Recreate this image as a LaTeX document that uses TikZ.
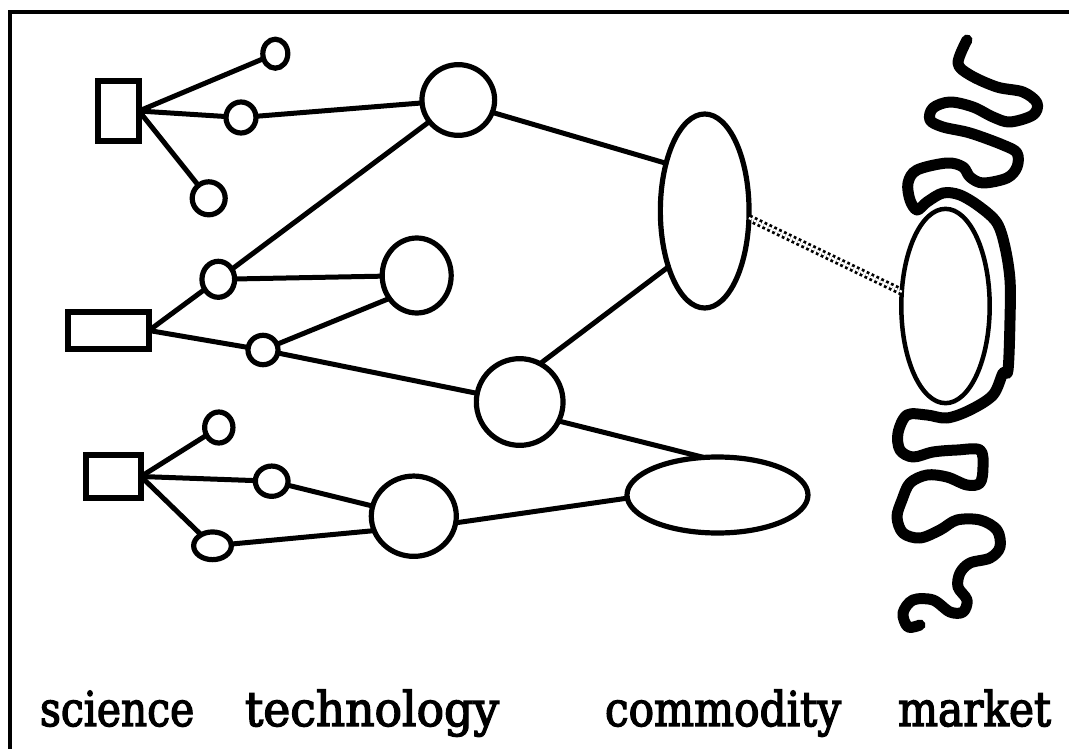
\documentclass[tikz,border=0pt]{standalone}
\usepackage{fontspec}
\setmainfont{DejaVu Serif}
\newfontfamily\lblfont{DejaVu Serif}[FakeBold=3]
\usetikzlibrary{shapes.geometric}
\begin{document}
\begin{tikzpicture}[x=1pt,y=-1pt,
  every node/.style={inner sep=0pt, outer sep=0pt},
  sbox/.style={draw, line width=5.2pt, shape=rectangle},
  blob/.style={draw, line width=5.2pt, shape=ellipse},
  link/.style={line width=5pt, line cap=round},
  dots/.style={line width=2.8pt, double=white, double distance=2.2pt, dash pattern=on 2.8pt off 2.6pt},
  worm/.style={line width=11pt, line cap=round, line join=round},
  frame/.style={line width=4pt},
  lbl/.style={font=\lblfont\fontsize{48}{52}\selectfont, anchor=base west}
]
\useasboundingbox (0,0) rectangle (1069,749);
\draw[frame] (9.5,749) -- (9.5,12) -- (1069,12);

% science boxes
\node[sbox, minimum width=41pt, minimum height=60pt] (S1) at (118.5,111) {};
\node[sbox, minimum width=81pt, minimum height=37pt] (S2) at (108.5,330.5) {};
\node[sbox, minimum width=55pt, minimum height=43pt] (S3) at (113.5,476.5) {};

% small technology circles
\node[blob, minimum width=25pt, minimum height=29pt] (a1) at (275.3,53.7) {};
\node[blob, minimum width=30pt, minimum height=31pt] (a2) at (241,117.5) {};
\node[blob, minimum width=33pt, minimum height=33pt] (a3) at (208.7,198.3) {};
\node[blob, minimum width=32.7pt, minimum height=36pt] (b1) at (218.3,279.3) {};
\node[blob, minimum width=30pt, minimum height=29.4pt] (b2) at (263,350) {};
\node[blob, minimum width=28.3pt, minimum height=31pt] (c1) at (218.8,427.5) {};
\node[blob, minimum width=32.7pt, minimum height=30.3pt] (c2) at (271.7,481.2) {};
\node[blob, minimum width=37.7pt, minimum height=27.7pt] (c3) at (212.5,545.8) {};

% big technology circles
\node[blob, minimum width=72.7pt, minimum height=70.7pt] (T1) at (458.3,100) {};
\node[blob, minimum width=69pt, minimum height=75pt] (T2) at (416.7,275.5) {};
\node[blob, minimum width=86.7pt, minimum height=86.7pt] (T3) at (519.7,402) {};
\node[blob, minimum width=85pt, minimum height=80.3pt] (T4) at (413.8,516.2) {};

% commodities
\node[blob, minimum width=88.7pt, minimum height=194pt] (C1) at (704.7,211) {};
\node[blob, minimum width=181pt, minimum height=76pt] (C2) at (717.5,495) {};

% market
\node[blob, line width=4.5pt, minimum width=88.4pt, minimum height=194.3pt] (M) at (945.5,306) {};

% connectors
\draw[link] (S1.east) -- (a1);
\draw[link] (S1.east) -- (a2);
\draw[link] (S1.east) -- (a3);
\draw[link] (a2) -- (T1);
\draw[link] (b1) -- (T1);
\draw[link] (S2.east) -- (b1);
\draw[link] (S2.east) -- (b2);
\draw[link] (b1) -- (T2);
\draw[link] (b2) -- (T2.220);
\draw[link] (b2) -- (T3);
\draw[link] (S3.east) -- (c1);
\draw[link] (S3.east) -- (c2);
\draw[link] (S3.east) -- (c3);
\draw[link] (c2) -- (T4);
\draw[link] (c3) -- (T4.200);
\draw[link] (T1.-20) -- (C1.129);
\draw[link] (T3.62) -- (C1.237);
\draw[link] (T3.-26) -- (C2.110);
\draw[link] (T4.-9) -- (C2.182);
\draw[dots] (C1.-9) -- (M.162);

% market worm
\draw[worm] plot[smooth, tension=0.55] coordinates {
(967,40) (958,63) (970,75) (997,87) (1023,92) (1037,103) (1033,115) (1010,122)
(993,117) (973,107) (950,102) (933,108) (930,120) (943,127) (970,133) (1003,145)
(1017,153) (1017,167) (1007,178) (983,183) (970,177) (963,167) (947,163) (917,170)
(908,183) (910,200) (917,210) (927,202) (943,193) (960,195) (980,207) (997,223)
(1005,247) (1010,280) (1010,320) (1008,370) (1003,373) (993,395) (970,410) (947,418)
(927,415) (907,415) (898,433) (900,450) (913,457) (933,452) (957,450) (980,450)
(983,467) (980,483) (967,485) (947,477) (927,475) (910,483) (902,500) (897,517)
(903,533) (920,538) (940,530) (957,520) (980,520) (997,530) (1000,547) (990,558)
(970,563) (960,573) (958,587) (967,600) (963,612) (950,612) (933,600) (913,600)
(903,613) (908,627) (920,625)};

% labels
\node[lbl] (lsci) at (40,726) {\scalebox{0.85}[1]{science}};
\node[lbl] (ltec) at (245,726) {\scalebox{0.95}[1]{technology}};
\node[lbl] (lcom) at (605,726) {\scalebox{0.88}[1]{commodity}};
\node[lbl] (lmar) at (898,726) {\scalebox{0.88}[1]{market}};
\end{tikzpicture}
\end{document}
